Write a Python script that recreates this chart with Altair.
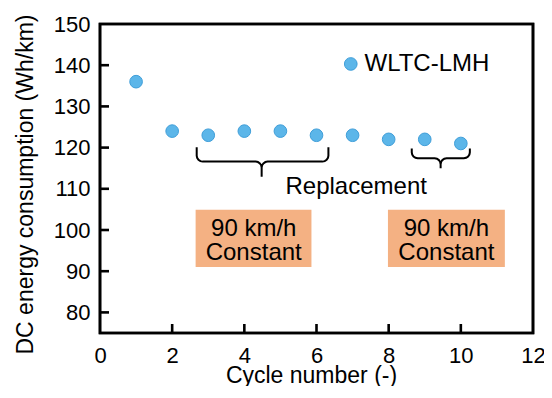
import math
import altair as alt
import pandas as pd

# ---- data ----
cycles = [1, 2, 3, 4, 5, 6, 7, 8, 9, 10]
energy = [136, 124, 123, 124, 124, 123, 123, 122, 122, 121]
series_name = "WLTC-LMH"

x_label_values = [0, 2, 4, 6, 8, 10, 12]
y_label_values = [80, 90, 100, 110, 120, 130, 140, 150]
x_tick_marks = [2, 4, 6, 8, 10]
y_tick_marks = [80, 90, 100, 110, 120, 130, 140]

# legend entry (drawn in data space)
legend_x = [6.95]
legend_y = [140.3]
legend_label_x = [7.33]

brace_left = [2.68, 8.64]
brace_mid = [4.48, 9.44]
brace_right = [6.33, 10.25]
brace_top = [120.1, 119.8]
brace_bar = [116.6, 117.4]
brace_tip = [112.9, 115.0]

note_text = ["Replacement"]
note_x = [7.1]
note_y = [108.7]

box_x1 = [2.65, 7.98]
box_x2 = [5.86, 11.22]
box_y1 = [91.0, 91.0]
box_y2 = [104.9, 104.9]
box_line1 = ["90 km/h", "90 km/h"]
box_line2 = ["Constant", "Constant"]
box_cx = [4.26, 9.60]
box_line1_y = [98.6, 98.6]
box_line2_y = [92.8, 92.8]

FONT = "Liberation Sans"
W, H = 433, 309
XMIN, XMAX, YMIN, YMAX = 0, 12, 75, 150
TICK_PX = 9
FILL = "#5CB6E9"
EDGE = "#3F9ED9"

xs = alt.Scale(domain=[XMIN, XMAX], nice=False, zero=False)
ys = alt.Scale(domain=[YMIN, YMAX], nice=False, zero=False)
px_x = (XMAX - XMIN) / W
px_y = (YMAX - YMIN) / H

pts = pd.DataFrame({"cycle": cycles, "energy": energy})
leg = pd.DataFrame({"x": legend_x, "y": legend_y, "lx": legend_label_x, "t": [series_name]})

# ---- braces ----
brace_rows = []
rx = 6 * px_x
ry = 6 * px_y
for b in range(len(brace_left)):
    L, M, R = brace_left[b], brace_mid[b], brace_right[b]
    top, bar, tip = brace_top[b], brace_bar[b], brace_tip[b]
    path = [(L, top)]
    cx, cy = L + rx, bar + ry
    for t in [180, 202.5, 225, 247.5, 270]:
        a = math.radians(t)
        path.append((cx + rx * math.cos(a), cy + ry * math.sin(a)))
    cx, cy = M - rx, bar - ry
    for t in [90, 67.5, 45, 22.5, 0]:
        a = math.radians(t)
        path.append((cx + rx * math.cos(a), cy + ry * math.sin(a)))
    path.append((M, tip))
    cx, cy = M + rx, bar - ry
    for t in [180, 157.5, 135, 112.5, 90]:
        a = math.radians(t)
        path.append((cx + rx * math.cos(a), cy + ry * math.sin(a)))
    cx, cy = R - rx, bar + ry
    for t in [270, 292.5, 315, 337.5, 360]:
        a = math.radians(t)
        path.append((cx + rx * math.cos(a), cy + ry * math.sin(a)))
    path.append((R, top))
    for i, (qx, qy) in enumerate(path):
        brace_rows.append({"g": "brace%d" % b, "o": i, "lx": qx, "ly": qy})
brace_df = pd.DataFrame(brace_rows)

# ---- frame and inward ticks ----
frame_rows = []


def add_path(gid, path):
    for i, (qx, qy) in enumerate(path):
        frame_rows.append({"g": gid, "o": i, "fx": qx, "fy": qy})


xmid = (XMIN + XMAX) / 2
add_path("frame", [(xmid, YMIN), (XMAX, YMIN), (XMAX, YMAX), (XMIN, YMAX),
                   (XMIN, YMIN), (xmid, YMIN)])
for i, tx in enumerate(x_tick_marks):
    add_path("xt%d" % i, [(tx, YMIN), (tx, YMIN + TICK_PX * px_y)])
for i, ty in enumerate(y_tick_marks):
    add_path("yt%d" % i, [(XMIN, ty), (XMIN + TICK_PX * px_x, ty)])
frame_df = pd.DataFrame(frame_rows)

boxes = pd.DataFrame({"x1": box_x1, "x2": box_x2, "y1": box_y1, "y2": box_y2})
box_text = pd.DataFrame({
    "x": box_cx + box_cx,
    "y": box_line1_y + box_line2_y,
    "t": box_line1 + box_line2,
})
note = pd.DataFrame({"x": note_x, "y": note_y, "t": note_text})

x_axis = alt.Axis(values=x_label_values, title="Cycle number (-)", domain=False, ticks=False,
                  grid=False, labelFontSize=22, labelPadding=12, labelFont=FONT,
                  labelColor="black", titleFont=FONT, titleFontSize=23, titleFontWeight="normal",
                  titleColor="black", titleX=211, titleY=49, titleBaseline="alphabetic",
                  titleAlign="center", labelFlush=False)
y_axis = alt.Axis(values=y_label_values, title="DC energy consumption (Wh/km)", domain=False,
                  ticks=False, grid=False, labelFontSize=22, labelPadding=10, labelFont=FONT,
                  labelColor="black", titleFont=FONT, titleFontSize=23, titleFontWeight="normal",
                  titleColor="black", titleAngle=-90, titleX=-68, titleY=160,
                  titleBaseline="alphabetic", titleAlign="center")

box_layer = alt.Chart(boxes).mark_rect(color="#F4B183").encode(
    x=alt.X("x1:Q", scale=xs, axis=x_axis), x2="x2:Q",
    y=alt.Y("y1:Q", scale=ys, axis=y_axis), y2="y2:Q",
)

box_text_layer = alt.Chart(box_text).mark_text(
    font=FONT, fontSize=24, color="black", baseline="alphabetic", align="center"
).encode(x=alt.X("x:Q", scale=xs), y=alt.Y("y:Q", scale=ys), text="t:N")

note_layer = alt.Chart(note).mark_text(
    font=FONT, fontSize=24, color="black", baseline="alphabetic", align="center"
).encode(x=alt.X("x:Q", scale=xs), y=alt.Y("y:Q", scale=ys), text="t:N")

brace_layer = alt.Chart(brace_df).mark_line(color="black", strokeWidth=2).encode(
    x=alt.X("lx:Q", scale=xs), y=alt.Y("ly:Q", scale=ys), detail="g:N", order="o:Q"
)

frame_layer = alt.Chart(frame_df).mark_line(color="black", strokeWidth=2.6).encode(
    x=alt.X("fx:Q", scale=xs), y=alt.Y("fy:Q", scale=ys), detail="g:N", order="o:Q"
)

point_layer = alt.Chart(pts).mark_circle(
    size=160, opacity=1, color=FILL, stroke=EDGE, strokeWidth=1
).encode(x=alt.X("cycle:Q", scale=xs), y=alt.Y("energy:Q", scale=ys))

legend_sym = alt.Chart(leg).mark_circle(
    size=160, opacity=1, color=FILL, stroke=EDGE, strokeWidth=1
).encode(x=alt.X("x:Q", scale=xs), y=alt.Y("y:Q", scale=ys))

legend_txt = alt.Chart(leg).mark_text(
    font=FONT, fontSize=24, color="black", baseline="middle", align="left"
).encode(x=alt.X("lx:Q", scale=xs), y=alt.Y("y:Q", scale=ys), text="t:N")

chart = alt.layer(
    box_layer, box_text_layer, note_layer, brace_layer, frame_layer,
    point_layer, legend_sym, legend_txt
).properties(
    width=W, height=H,
    background="white",
    autosize=alt.AutoSizeParams(type="none"),
    padding={"left": 92, "top": 16, "right": 11, "bottom": 53},
).configure_view(
    stroke="black", strokeWidth=2.6
)

chart.save("out.html", embed_options={"renderer": "svg", "actions": False})
